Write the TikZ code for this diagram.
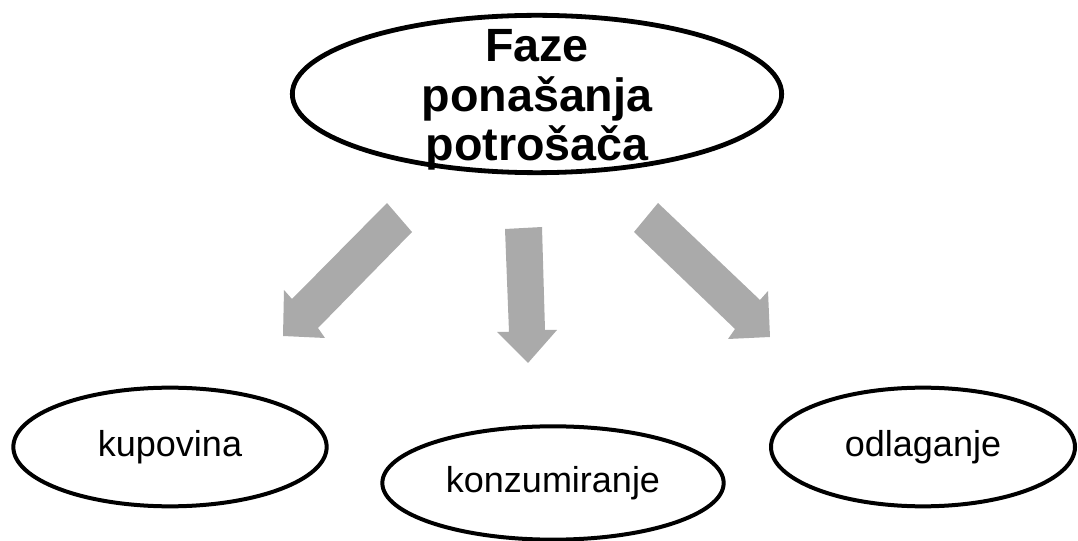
\documentclass[tikz,border=0pt]{standalone}
\usepackage{fontspec}
\setmainfont{Liberation Sans}
\usepackage{xcolor}
\definecolor{arrow-gray}{RGB}{170,170,170}
\usetikzlibrary{shapes.geometric}

\begin{document}
\begin{tikzpicture}[x=0.75pt,y=-0.75pt,
	phase/.style={draw,ellipse,line width=3pt,inner sep=0pt,
		font=\fontsize{27}{30}\selectfont},
	bigphase/.style={draw,ellipse,line width=3.6pt,inner sep=0pt,
		minimum width=367pt,minimum height=118pt},
	blockarrow/.style={fill=arrow-gray}]
	\useasboundingbox (0,0) rectangle (1078,541);
	
	\node[bigphase] (faze) at (537,94) {};
	\node[font=\bfseries\fontsize{35}{37}\selectfont,align=center]
		(fazetext) at (537,100) {Faze\\ponašanja\\potrošača};
	
	% block arrows
	\fill[blockarrow] (387,203) -- (412,232) -- (318,328) -- (325,338)
		-- (283,336) -- (284,290) -- (292,299) -- cycle;
	\fill[blockarrow] (505,229) -- (542,227) -- (545,330) -- (557,330)
		-- (528,363) -- (497,332) -- (509,332) -- cycle;
	\fill[blockarrow] (658,203) -- (634,232) -- (735,329) -- (728,339)
		-- (770,337) -- (768,291) -- (760,300) -- cycle;
	
	\node[phase,minimum width=235pt,minimum height=89pt]
		(kupovina) at (170,447) {kupovina};
	\node[phase,minimum width=256pt,minimum height=85pt]
		(konzumiranje) at (553,483) {konzumiranje};
	\node[phase,minimum width=228pt,minimum height=89pt]
		(odlaganje) at (923,447) {odlaganje};
\end{tikzpicture}
\end{document}
